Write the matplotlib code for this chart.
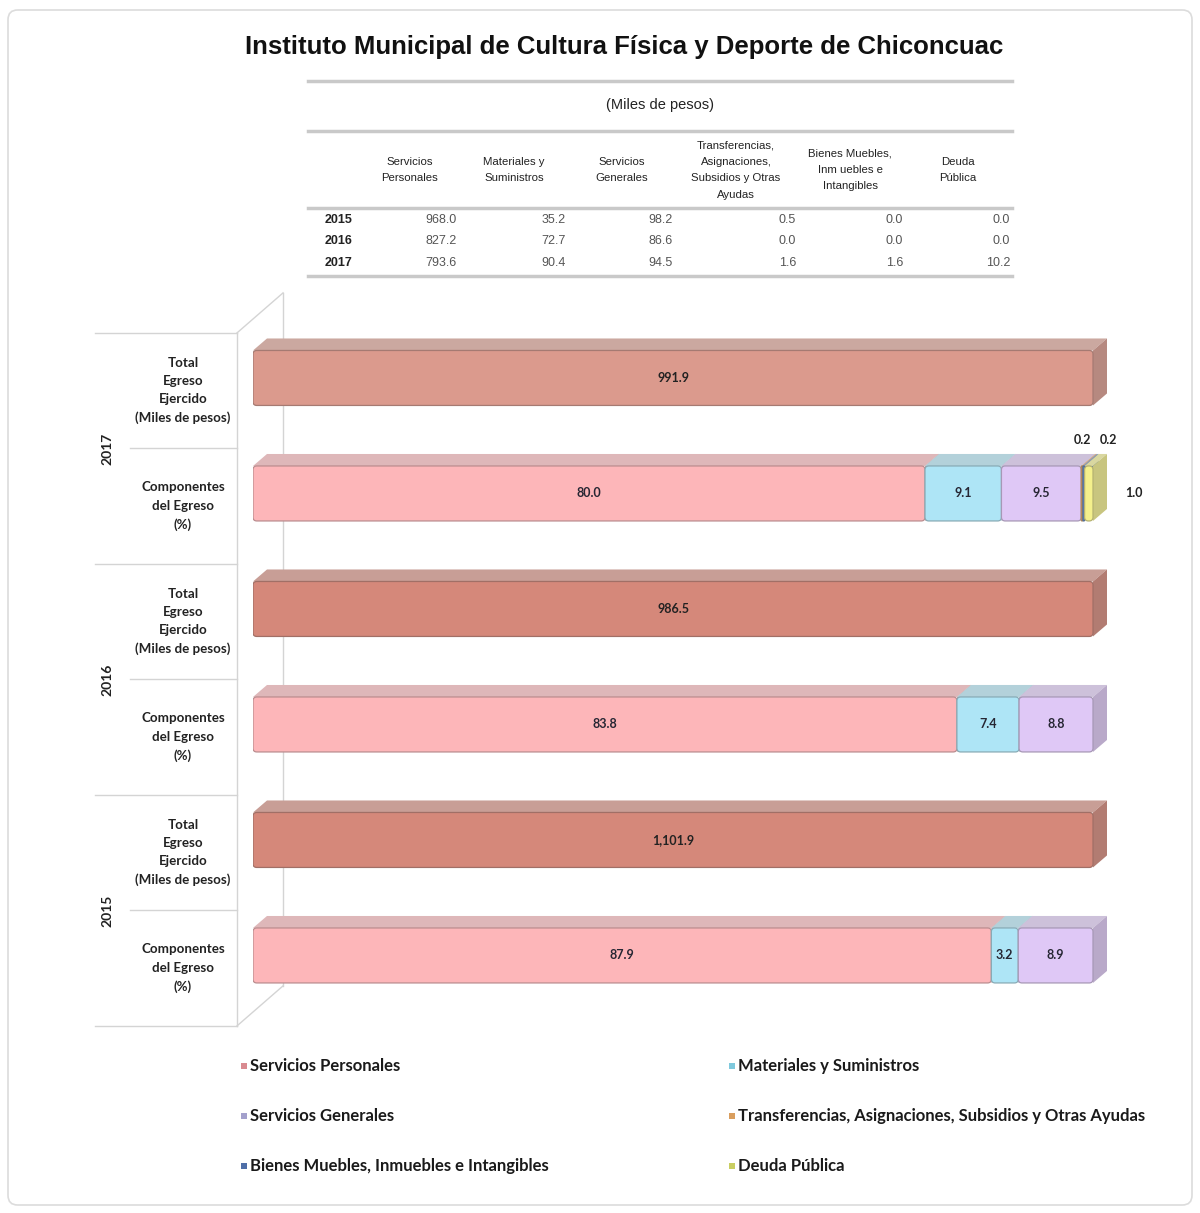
# -*- coding: utf-8 -*-
"""
Egreso ejercido por capitulo, Instituto Municipal de Cultura Fisica y Deporte de Chiconcuac.
"""

# --IMPORTS---
import numpy as np
import matplotlib.pyplot as plt
from matplotlib.colors import to_rgb
from matplotlib.patches import FancyBboxPatch, Polygon, Rectangle
from matplotlib.lines import Line2D
import matplotlib.transforms as mtransforms

# --DATA---
years = ['2015', '2016', '2017']
categories = ['Servicios Personales', 'Materiales y Suministros', 'Servicios Generales',
              'Transferencias, Asignaciones, Subsidios y Otras Ayudas',
              'Bienes Muebles, Inmuebles e Intangibles', 'Deuda Pública']
table_headers = ['Servicios\nPersonales', 'Materiales y\nSuministros', 'Servicios\nGenerales',
                 'Transferencias,\nAsignaciones,\nSubsidios y Otras\nAyudas',
                 'Bienes Muebles,\nInm uebles e\nIntangibles', 'Deuda\nPública']
egreso_2015 = [968.0, 35.2, 98.2, 0.5, 0.0, 0.0]
egreso_2016 = [827.2, 72.7, 86.6, 0.0, 0.0, 0.0]
egreso_2017 = [793.6, 90.4, 94.5, 1.6, 1.6, 10.2]
total_egreso = [1101.9, 986.5, 991.9]
pct_2015 = [87.9, 3.2, 8.9, 0.0, 0.0, 0.0]
pct_2016 = [83.8, 7.4, 8.8, 0.0, 0.0, 0.0]
pct_2017 = [80.0, 9.1, 9.5, 0.2, 0.2, 1.0]
row_labels = ['Componentes\ndel Egreso\n(%)', 'Total\nEgreso\nEjercido\n(Miles de pesos)']

# --CONSTANTS---
W, H = 1200, 1213
PX_X = 8.4          # pixels per percent
PX_Y = 115.5        # pixels per row
BAR_H = 0.476
DX = 14 / PX_X
DY = 12 / PX_Y
SHIFT = 0.11        # category axis offset (rows)
seg_colors = ['#FDB6B9', '#AEE5F6', '#DFC8F6', '#EBA866', '#5C86C4', '#F4F08C']
total_colors = ['#D5887A', '#D5887A', '#DB9A8D']
legend_colors = ['#D98A90', '#7FC9DD', '#A3A0CC', '#D99E5E', '#4F6FA8', '#C9CE62']
LABEL_FONT = 'Lato'
TABLE_FONT = 'Liberation Sans'

# ---FUNCTIONS---


def fx(x):
    return x / W


def fy(y):
    return 1 - y / H


def mix(c, other, t):
    c = np.array(to_rgb(c))
    o = np.array(to_rgb(other))
    return tuple(c * (1 - t) + o * t)


def box3d(ax, x0, width, yc, color):
    """ Draw one bevelled 3D bar segment. """
    y0, y1 = yc - BAR_H / 2, yc + BAR_H / 2
    x1 = x0 + width
    top = mix(color, '#B8B8B8', 0.45)
    side = mix(color, '#606060', 0.3)
    ax.add_patch(Polygon([(x0, y1), (x0 + DX, y1 + DY), (x1 + DX, y1 + DY), (x1, y1)],
                         closed=True, fc=top, ec='none', zorder=2))
    ax.add_patch(Polygon([(x1, y0), (x1, y1), (x1 + DX, y1 + DY), (x1 + DX, y0 + DY)],
                         closed=True, fc=side, ec='none', zorder=2))
    r = min(0.45, width / 2)
    ax.add_patch(FancyBboxPatch((x0, y0), width, BAR_H,
                                boxstyle='round,pad=0,rounding_size=%.3f' % r,
                                mutation_aspect=PX_X / PX_Y,
                                fc=color, ec=mix(color, '#404040', 0.35), lw=0.9, zorder=3))


def main():
    fig = plt.figure(figsize=(W / 100, H / 100), dpi=100)

    # Outer frame
    fig.patches.append(FancyBboxPatch((fx(8), fy(1205)), fx(1184), 1195 / H,
                                      boxstyle='round,pad=0,rounding_size=0.008',
                                      transform=fig.transFigure, fc='none',
                                      ec='#DCDCDC', lw=1.2, zorder=0))

    # Title
    fig.text(fx(624), fy(47), 'Instituto Municipal de Cultura Física y Deporte de Chiconcuac',
             ha='center', va='center', fontsize=18.5, fontweight='bold',
             family=TABLE_FONT, color='#111111')

    # Table
    for yl in [81, 131, 208, 276]:
        fig.add_artist(Line2D([fx(308), fx(1012)], [fy(yl), fy(yl)],
                              transform=fig.transFigure, color='#C9C9C9', lw=2.5))
    fig.text(fx(660), fy(105), '(Miles de pesos)', ha='center', va='center',
             fontsize=10.5, family=TABLE_FONT, color='#222222')
    head_x = [410, 514, 622, 736, 850, 958]
    val_x = [457, 566, 673, 796, 903, 1010]
    for hx, txt in zip(head_x, table_headers):
        fig.text(fx(hx), fy(170), txt, ha='center', va='center', fontsize=8.2,
                 family=TABLE_FONT, color='#222222', linespacing=1.8)
    for yr, vals, yrow in zip(years, [egreso_2015, egreso_2016, egreso_2017], [220, 241, 263]):
        fig.text(fx(325), fy(yrow), yr, ha='left', va='center', fontsize=9,
                 fontweight='bold', family=TABLE_FONT, color='#222222')
        for vx, v in zip(val_x, vals):
            fig.text(fx(vx), fy(yrow), '%.1f' % v, ha='right', va='center', fontsize=9,
                     family=TABLE_FONT, color='#555555')

    # Bars
    ax = fig.add_axes([fx(253), fy(1030), (1150 - 253) / W, 730 / H])
    ax.set_xlim(0, 897 / PX_X)
    ax.set_ylim(5.675 - 730 / PX_Y, 5.675)
    ax.axis('off')

    pcts = [pct_2015, pct_2016, pct_2017]
    for i in range(len(years)):
        y_comp = 2 * i
        y_tot = 2 * i + 1
        # total bar
        box3d(ax, 0, sum(pcts[i]), y_tot, total_colors[i])
        ax.text(sum(pcts[i]) / 2, y_tot, '{:,.1f}'.format(total_egreso[i]),
                ha='center', va='center', fontsize=9, fontweight='bold',
                family=LABEL_FONT, color='#222222', zorder=5)
        # components
        left = 0
        small = 0
        for k, p in enumerate(pcts[i]):
            if p <= 0:
                continue
            box3d(ax, left, p, y_comp, seg_colors[k])
            if p >= 2:
                ax.text(left + p / 2, y_comp, '%.1f' % p, ha='center', va='center',
                        fontsize=9, fontweight='bold', family=LABEL_FONT,
                        color='#262633', zorder=5)
            elif p < 0.5:
                ax.text(left + p / 2 + small * 2.9, y_comp + BAR_H / 2 + DY + 0.12,
                        '%.1f' % p, ha='center', va='center', fontsize=9,
                        fontweight='bold', family=LABEL_FONT, color='#222222')
                small += 1
            else:
                ax.text(left + p + DX + 2.2, y_comp, '%.1f' % p, ha='left',
                        va='center', fontsize=9, fontweight='bold',
                        family=LABEL_FONT, color='#222222')
            left += p

    # Category axis (table style)
    trans = mtransforms.blended_transform_factory(ax.transAxes, ax.transData)
    ax_w = 897

    def axf(px):
        return (px - 253) / ax_w

    for b in np.arange(-0.5, 6, 1.0):
        x_start = 95 if int(b + 0.5) % 2 == 0 else 130
        ax.add_line(Line2D([axf(x_start), axf(237)], [b - SHIFT, b - SHIFT], transform=trans,
                           color='#D4D4D4', lw=1, clip_on=False))
    top_b, bot_b = 5.5 - SHIFT, -0.5 - SHIFT
    depth_y = 40 / PX_Y
    wall = '#D4D4D4'
    ax.add_line(Line2D([axf(237), axf(237)], [bot_b, top_b], transform=trans,
                       color=wall, lw=1, clip_on=False))
    ax.add_line(Line2D([axf(283), axf(283)], [bot_b + depth_y, top_b + depth_y],
                       transform=trans, color=wall, lw=1, clip_on=False, zorder=1))
    ax.add_line(Line2D([axf(237), axf(283)], [top_b, top_b + depth_y], transform=trans,
                       color=wall, lw=1, clip_on=False))
    ax.add_line(Line2D([axf(237), axf(283)], [bot_b, bot_b + depth_y], transform=trans,
                       color=wall, lw=1, clip_on=False))

    for r in range(6):
        ax.text(axf(183), r - SHIFT, row_labels[r % 2], transform=trans, ha='center',
                va='center', fontsize=9.6, fontweight='bold', family=LABEL_FONT,
                color='#222222', linespacing=1.62)
    for i, yr in enumerate(years):
        ax.text(axf(107), 2 * i + 0.5 - SHIFT, yr, transform=trans, ha='center',
                va='center', rotation=90, fontsize=10, fontweight='bold',
                family=LABEL_FONT, color='#222222')

    # Legend (row-wise, two columns)
    for k, name in enumerate(categories):
        lx = 241 if k % 2 == 0 else 729
        ly = 1066 + 50 * (k // 2)
        fig.patches.append(Rectangle((fx(lx), fy(ly + 3)), 6 / W, 6 / H,
                                     transform=fig.transFigure, fc=legend_colors[k],
                                     ec='none'))
        fig.text(fx(lx + 9), fy(ly), name, ha='left', va='center', fontsize=12,
                 fontweight='bold', family=LABEL_FONT, color='#1A1A1A')

    fig.savefig('out.png', dpi=100, facecolor='white')


# ---MAIN---
if __name__ == '__main__':
    main()
